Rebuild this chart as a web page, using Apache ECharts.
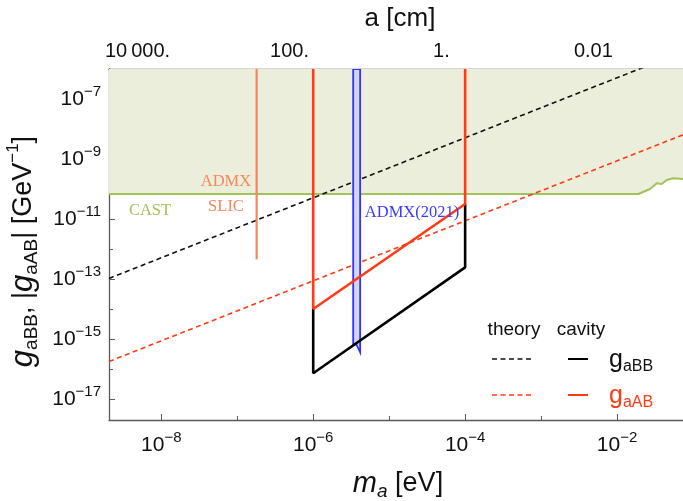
<!DOCTYPE html>
<html><head><meta charset="utf-8">
<script src="https://cdn.jsdelivr.net/npm/echarts@6/dist/echarts.min.js"></script>
<style>html,body{margin:0;padding:0;background:#fff}#c{width:683px;height:501px}</style>
</head><body><div id="c"></div>
<script>
// ---- axis ranges (m in eV, g in GeV^-1) ----
const mRange = [2.05e-9, 0.0738];
const gRange = [2.0e-18, 1e-6];
// ---- tick values ----
const xMajorTicks = [1e-8, 1e-6, 1e-4, 1e-2];
const xMinorTicks = [1e-7, 1e-5, 1e-3];
const yMajorTicks = [1e-17, 1e-15, 1e-13, 1e-11, 1e-9, 1e-7];
const yMinorTicks = [1e-16, 1e-14, 1e-12, 1e-10, 1e-8];
const aTicks = [1e4, 1e3, 1e2, 1e1, 1, 1e-1, 1e-2, 1e-3];          // cm
const aTickLabels = ['10\u2009000.', '', '100.', '', '1.', '', '0.01', ''];
const aOneCmMass = 4.875e-5;                                          // eV where a = 1 cm
// ---- CAST bound ----
const castM = [2.05e-9, 1.905e-2, 2.72e-2, 3.33e-2, 3.87e-2, 4.5e-2, 5.5e-2, 7.38e-2];
const castG = [6.8e-11, 6.8e-11, 1.0e-10, 1.55e-10, 1.47e-10, 2.0e-10, 2.28e-10, 2.15e-10];
// ---- theory lines ----
const theoryM = [1e-9, 1e-1];
const theoryBB = [5.1e-14, 5.1e-6];
const theoryAB = [8.7e-17, 8.7e-9];
// ---- cavity reach ----
const cavityBBm = [1e-6, 1e-6, 1e-4, 1e-4];
const cavityBBg = [1e-14, 7.2e-17, 2.45e-13, 3.16e-11];
const cavityABm = [1e-6, 1e-6, 1e-4, 1e-4];
const cavityABg = [1e-6, 1e-14, 3.16e-11, 1e-6];
// ---- ADMX / SLIC ----
const admxSlicM = [1.8e-7, 1.8e-7];
const admxSlicG = [1e-6, 4.5e-13];
// ---- ADMX(2021) band ----
const admx21M = [3.36e-6, 3.36e-6, 3.7e-6, 4.15e-6, 4.15e-6];
const admx21G = [1e-6, 6.3e-16, 6.6e-16, 3.6e-16, 1e-6];

const L = Math.log10;
const pts = (ms, gs) => ms.map((m, i) => [L(m), L(gs[i])]);
const sup = v => (v < 0 ? '\u2212' : '') + Math.abs(Math.round(v));
const FONT = 'Liberation Sans, Arial, sans-serif';
const SERIF = 'Liberation Serif, Times New Roman, serif';
const AX = '#5a5a5a';

const powRich = {
  b: {fontSize: 21, fontFamily: FONT, color: '#111', lineHeight: 30},
  s: {fontSize: 15, fontFamily: FONT, color: '#111', lineHeight: 15, verticalAlign: 'top'}
};
const aLabelVals = aTicks.filter((a, i) => aTickLabels[i]).map(a => L(aOneCmMass / a));

const chart = echarts.init(document.getElementById('c'), null, {renderer: 'canvas'});
const xBase = {type: 'value', min: L(mRange[0]), max: L(mRange[1]), splitLine: {show: false}, gridIndex: 0};
const yBase = {type: 'value', min: L(gRange[0]), max: L(gRange[1]), splitLine: {show: false}, gridIndex: 0};

chart.setOption({
  animation: false,
  backgroundColor: '#fff',
  grid: {left: 109, right: 0, top: 69, bottom: 81, containLabel: false, outerBoundsMode: 'none'},
  xAxis: [
    Object.assign({}, xBase, {
      position: 'bottom',
      axisLine: {show: true, lineStyle: {color: AX, width: 1.3}},
      axisTick: {show: true, inside: true, length: 6, lineStyle: {color: AX}, customValues: xMajorTicks.map(L)},
      axisLabel: {show: true, margin: 10, customValues: xMajorTicks.map(L),
        formatter: v => '{b|10}{s|' + sup(v) + '}', rich: powRich},
      name: '{mi|m}{sub|a}{t| [eV]}', nameLocation: 'middle', nameGap: 47,
      nameTextStyle: {padding: [0, 0, 0, 4], rich: {
        mi: {fontSize: 29, fontStyle: 'italic', fontFamily: FONT, color: '#111', lineHeight: 34},
        sub: {fontSize: 19, fontStyle: 'italic', fontFamily: FONT, color: '#111', lineHeight: 17, verticalAlign: 'bottom'},
        t: {fontSize: 27, fontFamily: FONT, color: '#111', lineHeight: 34}
      }}
    }),
    Object.assign({}, xBase, {
      position: 'bottom',
      axisLine: {show: false},
      axisTick: {show: true, inside: true, length: 4, lineStyle: {color: AX}, customValues: xMinorTicks.map(L)},
      axisLabel: {show: false}
    }),
    Object.assign({}, xBase, {
      position: 'top',
      axisLine: {show: true, lineStyle: {color: AX, width: 1.3}},
      axisTick: {show: true, inside: true, length: 4, lineStyle: {color: AX}, customValues: aTicks.map(a => L(aOneCmMass / a))},
      axisLabel: {show: true, margin: 8, customValues: aLabelVals, fontSize: 20, fontFamily: FONT, color: '#111',
        formatter: v => {
          let best = 0, d = 1e9;
          aTicks.forEach((a, i) => { const dd = Math.abs(L(aOneCmMass / a) - v); if (dd < d) { d = dd; best = i; } });
          return aTickLabels[best];
        }},
      name: 'a [cm]', nameLocation: 'middle', nameGap: 37,
      nameTextStyle: {fontSize: 26, fontFamily: FONT, color: '#111', padding: [0, 0, 0, 8]}
    })
  ],
  yAxis: [
    Object.assign({}, yBase, {
      position: 'left',
      axisLine: {show: true, lineStyle: {color: AX, width: 1.3}},
      axisTick: {show: true, inside: true, length: 6, lineStyle: {color: AX}, customValues: yMajorTicks.map(L)},
      axisLabel: {show: true, margin: 8, customValues: yMajorTicks.map(L),
        formatter: v => '{b|10}{s|' + sup(v) + '}', rich: powRich},
      name: '{gi|g}{sub|aBB}{t|, |}{gi|g}{sub|aAB}{t|| [GeV}{sp|\u22121}{t|]}',
      nameLocation: 'middle', nameGap: 57, nameRotate: 90,
      nameTextStyle: {padding: [0, 14, 0, 0], rich: {
        gi: {fontSize: 31, fontStyle: 'italic', fontFamily: FONT, color: '#111', lineHeight: 36},
        sub: {fontSize: 19, fontFamily: FONT, color: '#111', lineHeight: 17, verticalAlign: 'bottom'},
        t: {fontSize: 27, fontFamily: FONT, color: '#111', lineHeight: 36},
        sp: {fontSize: 17, fontFamily: FONT, color: '#111', lineHeight: 16, verticalAlign: 'top'}
      }}
    }),
    Object.assign({}, yBase, {
      position: 'left',
      axisLine: {show: false},
      axisTick: {show: true, inside: true, length: 4, lineStyle: {color: AX}, customValues: yMinorTicks.map(L)},
      axisLabel: {show: false}
    })
  ],
  series: [
    {type: 'line', name: 'CAST', data: pts(castM, castG), showSymbol: false, symbol: 'none', z: 1,
      lineStyle: {color: '#a2c25a', width: 2}, areaStyle: {origin: 'end', color: '#eaeedb', opacity: 1}},
    {type: 'line', name: 'theory BB', data: pts(theoryM, theoryBB), symbol: 'none', z: 3,
      lineStyle: {color: '#111', width: 1.6, type: [5, 3.5]}},
    {type: 'line', name: 'theory AB', data: pts(theoryM, theoryAB), symbol: 'none', z: 3,
      lineStyle: {color: '#ff3a14', width: 1.6, type: [5, 3.5]}},
    {type: 'line', name: 'ADMX SLIC', data: pts(admxSlicM, admxSlicG), symbol: 'none', z: 3,
      lineStyle: {color: '#f4875c', width: 2.2}},
    {type: 'custom', name: 'ADMX2021', clip: true, z: 4,
      data: [0],
      renderItem: (params, api) => {
        const p = pts(admx21M, admx21G).map(q => api.coord(q));
        return {type: 'polygon', shape: {points: p},
          style: {fill: '#d3d6f0', stroke: '#3232ff', lineWidth: 1.8}};
      }},
    {type: 'line', name: 'cavity BB', data: pts(cavityBBm, cavityBBg), symbol: 'none', z: 5,
      lineStyle: {color: '#000', width: 2.6}},
    {type: 'line', name: 'cavity AB', data: pts(cavityABm, cavityABg), symbol: 'none', z: 6,
      lineStyle: {color: '#ff3a14', width: 2.6}}
  ],
  graphic: [
    {type: 'text', x: 226, y: 182, z: 10, style: {text: 'ADMX', fill: '#f4875c', font: '16.5px ' + SERIF, align: 'center', verticalAlign: 'middle'}},
    {type: 'text', x: 226, y: 207, z: 10, style: {text: 'SLIC', fill: '#f4875c', font: '16.5px ' + SERIF, align: 'center', verticalAlign: 'middle'}},
    {type: 'text', x: 150, y: 211, z: 10, style: {text: 'CAST', fill: '#a2c25a', font: '16.5px ' + SERIF, align: 'center', verticalAlign: 'middle'}},
    {type: 'text', x: 412, y: 213, z: 10, style: {text: 'ADMX(2021)', fill: '#3a3aff', font: '16.5px ' + SERIF, align: 'center', verticalAlign: 'middle'}},
    {type: 'text', x: 514, y: 330, z: 10, style: {text: 'theory', fill: '#111', font: '19px ' + FONT, align: 'center', verticalAlign: 'middle'}},
    {type: 'text', x: 581, y: 330, z: 10, style: {text: 'cavity', fill: '#111', font: '19px ' + FONT, align: 'center', verticalAlign: 'middle'}},
    {type: 'line', z: 10, shape: {x1: 492, y1: 359, x2: 534, y2: 359}, style: {stroke: '#111', lineWidth: 1.6, lineDash: [5, 3.5]}},
    {type: 'line', z: 10, shape: {x1: 568, y1: 359, x2: 588, y2: 359}, style: {stroke: '#000', lineWidth: 2}},
    {type: 'line', z: 10, shape: {x1: 492, y1: 395, x2: 534, y2: 395}, style: {stroke: '#ff3a14', lineWidth: 1.6, lineDash: [5, 3.5]}},
    {type: 'line', z: 10, shape: {x1: 568, y1: 395, x2: 588, y2: 395}, style: {stroke: '#ff3a14', lineWidth: 2}},
    {type: 'text', x: 609, y: 360, z: 10, style: {text: '{g|g}{s|aBB}', align: 'left', verticalAlign: 'middle',
      rich: {g: {fontSize: 25, fontFamily: FONT, fill: '#111', lineHeight: 30}, s: {fontSize: 16, fontFamily: FONT, fill: '#111', lineHeight: 15, verticalAlign: 'bottom'}}}},
    {type: 'text', x: 609, y: 396, z: 10, style: {text: '{g|g}{s|aAB}', align: 'left', verticalAlign: 'middle',
      rich: {g: {fontSize: 25, fontFamily: FONT, fill: '#ff3a14', lineHeight: 30}, s: {fontSize: 16, fontFamily: FONT, fill: '#ff3a14', lineHeight: 15, verticalAlign: 'bottom'}}}}
  ]
});
</script></body></html>
